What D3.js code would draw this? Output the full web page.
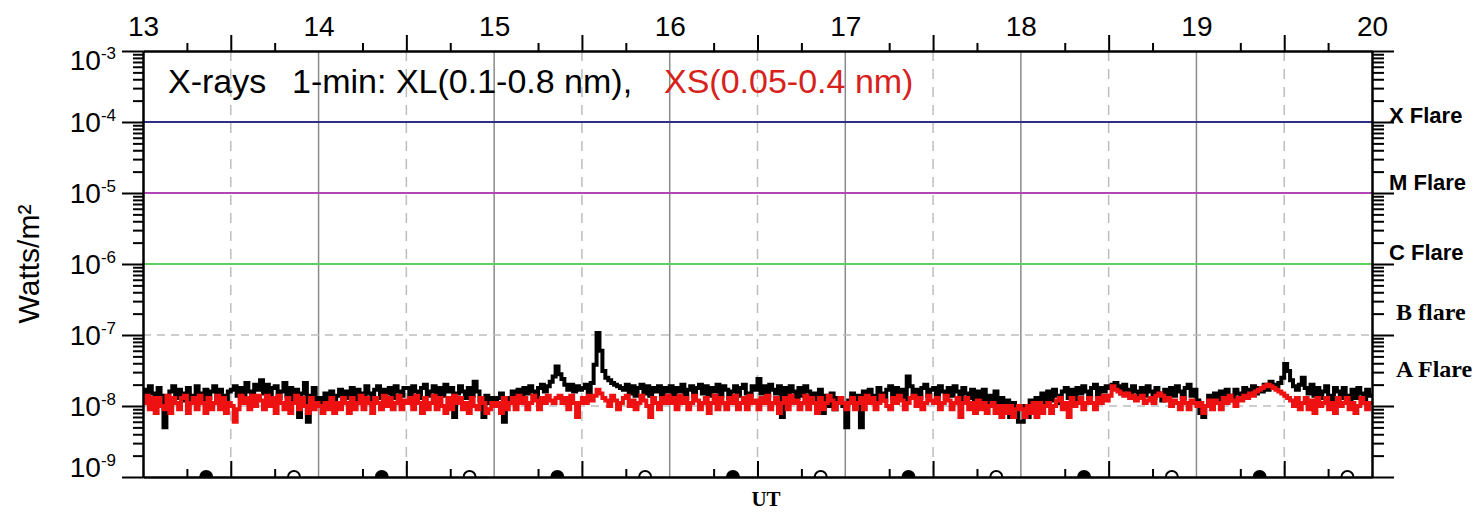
<!DOCTYPE html>
<html>
<head>
<meta charset="utf-8">
<script src="https://cdn.jsdelivr.net/npm/d3@7"></script>
<style>
  body { margin: 0; background: #fff; }
  text { font-family: "Liberation Sans", Arial, sans-serif; }
</style>
</head>
<body>
<svg id="chart" width="1476" height="513"></svg>
<script>
// ---- data ----
const hours = [13, 14, 15, 16, 17, 18, 19, 20];
const decades = [-9, -8, -7, -6, -5, -4, -3];
const flareValues = [1e-4, 1e-5, 1e-6];
const flareColors = ["#2e3088", "#b246b6", "#5fcf5f"];
const flareLabels = ["X Flare", "M Flare", "C Flare", "B flare", "A Flare"];
const flareLabelExp = [-4.07, -5.02, -6.0, -6.85, -7.65];
const dayMarks = [13.36, 14.36, 15.36, 16.36, 17.36, 18.36, 19.36];
const nightMarks = [13.86, 14.86, 15.86, 16.86, 17.86, 18.86, 19.86];
const unit = 1e-9; // series below are in 1e-9 W/m^2, one value per minute from 13:00
const xlData = [
  17,13,19,15,12,18,14,5,12,16,19,13,17,12,15,18,12,14,19,15,12,17,13,16,19,12,17,14,11,16,
  17,19,14,18,13,21,16,14,20,17,23,15,20,14,18,19,13,16,21,14,18,12,17,7,15,21,6,14,18,12,
  13,11,15,12,16,11,14,17,12,16,13,18,12,17,15,13,19,15,12,17,19,13,17,15,18,13,19,16,14,18,
  18,14,19,16,13,18,20,14,16,19,13,18,14,20,16,18,7,15,19,16,13,18,14,22,16,12,7,14,11,13,
  12,13,15,6,13,12,16,14,17,12,18,15,19,16,13,18,20,16,19,22,26,36,28,24,20,17,20,16,19,17,
  18,20,15,21,38,107,60,31,25,23,21,20,19,18,17,20,15,19,14,18,20,15,19,14,18,16,19,14,18,16,
  19,14,18,16,20,13,17,19,14,18,20,15,19,14,18,16,20,14,19,17,13,16,19,14,18,20,15,14,19,17,
  24,15,19,14,20,17,15,19,7,18,14,19,16,13,18,14,19,16,12,15,11,17,8,14,10,15,9,13,11,10,
  5,12,15,10,14,5,16,12,17,14,11,18,15,12,17,19,13,18,14,17,12,26,19,14,17,13,18,20,14,17,
  18,14,19,16,13,18,14,19,16,12,18,15,13,17,11,16,12,17,10,14,11,16,8,13,9,12,7,11,8,6,
  6,10,7,12,8,13,10,15,11,16,12,17,14,11,16,18,13,17,12,18,15,19,16,13,18,20,14,18,16,19,
  18,20,21,19,15,20,17,14,19,16,13,18,14,19,16,13,18,15,12,17,13,18,14,19,16,13,18,20,14,17,
  12,8,7,10,14,11,15,12,16,13,17,14,12,17,15,13,18,14,17,19,15,18,16,20,17,22,20,19,21,25,
  39,31,23,19,17,20,25,18,15,20,14,18,13,16,19,14,12,18,16,13,18,14,12,17,13,18,15,11,17,14,
  15
];
const xsData = [
  11,14,9,13,8,13,10,9,14,8,13,11,9,13,14,8,11,13,9,14,11,8,13,9,11,14,9,13,8,11,
  10,6,9,14,11,13,9,14,10,14,12,9,14,10,13,8,14,11,9,13,8,11,14,9,13,10,8,13,9,11,
  10,8,11,9,13,8,11,9,13,11,8,13,9,11,14,9,13,11,8,13,11,9,14,10,13,9,11,14,9,12,
  11,13,9,14,11,8,13,9,11,14,9,13,10,8,13,9,14,11,13,9,11,8,13,10,9,13,11,8,9,11,
  10,11,8,13,9,11,13,9,14,11,13,9,11,14,12,9,13,11,14,12,11,13,14,11,13,9,14,11,7,11,
  13,11,14,12,14,17,15,13,12,10,14,12,9,11,13,14,10,12,9,11,14,12,10,7,13,11,9,13,11,14,
  11,13,9,14,11,13,9,11,14,12,9,11,13,8,11,14,9,13,11,9,13,11,14,9,11,13,9,14,11,12,
  9,13,11,14,9,11,13,8,11,13,9,14,11,12,9,11,14,9,13,11,8,13,9,11,14,12,9,11,13,11,
  9,11,13,9,11,13,9,14,11,13,9,11,14,12,10,9,13,11,14,12,9,11,13,14,10,13,9,11,14,12,
  11,13,9,11,14,12,9,11,13,7,11,13,9,11,8,12,9,11,8,10,11,8,10,7,10,8,10,7,9,10,
  9,7,10,8,11,7,11,8,10,11,8,10,12,13,9,11,7,13,10,11,13,9,11,13,11,9,13,11,14,12,
  14,19,17,16,15,14,15,13,14,12,13,14,11,12,13,11,14,15,14,12,13,10,12,11,9,13,11,9,12,11,
  10,11,8,10,12,9,12,11,9,13,11,14,12,10,13,12,14,13,15,14,16,17,18,19,20,19,18,17,16,15,
  14,13,12,10,13,9,11,13,9,12,8,13,10,11,13,9,11,8,13,10,11,13,9,11,8,10,13,11,9,11,
  11
];

// ---- layout ----
const svg = d3.select("#chart");
const plotLeft = 143, plotRight = 1372, plotTop = 51, plotBottom = 477;
const sansFont = "'Liberation Sans', Arial, sans-serif";
const serifFont = "'Liberation Serif', 'Times New Roman', serif";

const x = d3.scaleLinear().domain([13, 20]).range([plotLeft, plotRight]);
const y = d3.scaleLog().domain([1e-9, 1e-3]).range([plotBottom, plotTop]);

const decadeVals = decades.map(d => Math.pow(10, d));
let minorVals = [];
decades.slice(0, -1).forEach(function (d) {
  for (let k = 2; k < 10; k++) minorVals.push(k * Math.pow(10, d));
});
let quarterVals = [], halfVals = [];
for (let h = 13; h < 20; h++) {
  quarterVals.push(h + 0.25, h + 0.75);
  halfVals.push(h + 0.5);
}

svg.append("rect").attr("width", 1476).attr("height", 513).attr("fill", "#fff");

// grid
const grid = svg.append("g");
grid.selectAll(".vh").data(hours.slice(1, -1)).enter().append("line")
  .attr("x1", d => x(d)).attr("x2", d => x(d))
  .attr("y1", plotTop).attr("y2", plotBottom)
  .attr("stroke", "#8a8a8a").attr("stroke-width", 1.5);
grid.selectAll(".vhh").data(halfVals).enter().append("line")
  .attr("x1", d => x(d)).attr("x2", d => x(d))
  .attr("y1", plotTop).attr("y2", plotBottom)
  .attr("stroke", "#bdbdbd").attr("stroke-width", 1.5)
  .attr("stroke-dasharray", "10,8");
grid.selectAll(".hd").data(decadeVals.slice(1, -1)).enter().append("line")
  .attr("x1", plotLeft).attr("x2", plotRight)
  .attr("y1", d => y(d)).attr("y2", d => y(d))
  .attr("stroke", "#bdbdbd").attr("stroke-width", 1.5)
  .attr("stroke-dasharray", "8,6");

// flare threshold lines
svg.selectAll(".flare").data(flareValues).enter().append("line")
  .attr("x1", plotLeft).attr("x2", plotRight)
  .attr("y1", d => y(d)).attr("y2", d => y(d))
  .attr("stroke", (d, i) => flareColors[i]).attr("stroke-width", 2);

// data
svg.append("clipPath").attr("id", "clip").append("rect")
  .attr("x", plotLeft).attr("y", plotTop)
  .attr("width", plotRight - plotLeft).attr("height", plotBottom - plotTop);

const line = d3.line()
  .x((d, i) => x(13 + i / 60))
  .y(d => y(d * unit))
  .curve(d3.curveStepAfter);

svg.append("path").datum(xlData)
  .attr("clip-path", "url(#clip)")
  .attr("d", line).attr("fill", "none")
  .attr("stroke", "#000").attr("stroke-width", 4);
svg.append("path").datum(xsData)
  .attr("clip-path", "url(#clip)")
  .attr("d", line).attr("fill", "none")
  .attr("stroke", "#ee1111").attr("stroke-width", 4);

// axes
function styleAxis(g) {
  g.select(".domain").attr("stroke", "#000").attr("stroke-width", 2);
  g.selectAll(".tick line").attr("stroke", "#000").attr("stroke-width", 2);
  g.selectAll("text").remove();
}
svg.append("g").attr("transform", `translate(${plotLeft},0)`)
  .call(d3.axisLeft(y).tickValues(decadeVals).tickSize(21).tickSizeOuter(0).tickFormat(""))
  .call(styleAxis);
svg.append("g").attr("transform", `translate(${plotLeft},0)`)
  .call(d3.axisLeft(y).tickValues(minorVals).tickSize(10).tickSizeOuter(0).tickFormat(""))
  .call(styleAxis);
svg.append("g").attr("transform", `translate(${plotRight},0)`)
  .call(d3.axisRight(y).tickValues(decadeVals).tickSize(22).tickSizeOuter(0).tickFormat(""))
  .call(styleAxis);
svg.append("g").attr("transform", `translate(${plotRight},0)`)
  .call(d3.axisRight(y).tickValues(minorVals).tickSize(12).tickSizeOuter(0).tickFormat(""))
  .call(styleAxis);

[[plotTop, d3.axisTop, -1], [plotBottom, d3.axisBottom, 1]].forEach(function (p) {
  const sign = -p[2];
  svg.append("g").attr("transform", `translate(0,${p[0]})`)
    .call(p[1](x).tickValues(quarterVals).tickSize(sign * 8).tickSizeOuter(0).tickFormat(""))
    .call(styleAxis);
  svg.append("g").attr("transform", `translate(0,${p[0]})`)
    .call(p[1](x).tickValues(halfVals).tickSize(sign * 16).tickSizeOuter(0).tickFormat(""))
    .call(styleAxis);
});

// hour labels on top
const topLabels = svg.append("g").attr("transform", `translate(0,${plotTop})`)
  .call(d3.axisTop(x).tickValues(hours).tickSize(0).tickPadding(15).tickFormat(d3.format("d")));
topLabels.select(".domain").remove();
topLabels.selectAll("text")
  .style("font-family", sansFont)
  .attr("font-size", 28).attr("fill", "#000");

// decade labels 10^n
const yl = svg.append("g").selectAll("text").data(decades).enter().append("text")
  .attr("x", 116)
  .attr("y", function (d, i) {
    let shift = 0;
    if (i === 0) shift = -10;
    if (i === decades.length - 1) shift = 9;
    return y(Math.pow(10, d)) + 10 + shift;
  })
  .attr("text-anchor", "end")
  .attr("font-size", 28);
yl.append("tspan").text("10");
yl.append("tspan").attr("dy", -11).attr("font-size", 17).text(d => String(d));

svg.append("text")
  .attr("transform", "translate(39,264) rotate(-90)")
  .attr("text-anchor", "middle")
  .attr("font-size", 30)
  .text("Watts/m²");

// title
svg.append("text").attr("x", 168).attr("y", 93).attr("font-size", 34)
  .text("X-rays");
svg.append("text").attr("x", 292).attr("y", 93).attr("font-size", 34)
  .text("1-min: XL(0.1-0.8 nm),");
svg.append("text").attr("x", 664).attr("y", 93).attr("font-size", 34)
  .attr("fill", "#d7221c")
  .text("XS(0.05-0.4 nm)");

// flare labels on the right
svg.selectAll(".flab").data(flareLabels).enter().append("text")
  .attr("x", (d, i) => i < 3 ? 1389 : 1396)
  .attr("y", (d, i) => y(Math.pow(10, flareLabelExp[i])) - 4)
  .style("font-family", (d, i) => i < 3 ? sansFont : serifFont)
  .attr("font-weight", "bold")
  .attr("font-size", (d, i) => i < 3 ? 22 : 24)
  .text(d => d);

svg.append("text").attr("x", 766).attr("y", 506)
  .attr("text-anchor", "middle")
  .style("font-family", serifFont)
  .attr("font-weight", "bold").attr("font-size", 21)
  .text("UT");

// orbit day/night markers on the time axis
svg.selectAll(".day").data(dayMarks).enter().append("path")
  .attr("transform", d => `translate(${x(d)},${plotBottom})`)
  .attr("d", d3.arc().innerRadius(0).outerRadius(7)
    .startAngle(-Math.PI / 2).endAngle(Math.PI / 2)())
  .attr("fill", "#000");
svg.selectAll(".night").data(nightMarks).enter().append("path")
  .attr("transform", d => `translate(${x(d)},${plotBottom})`)
  .attr("d", d3.arc().innerRadius(5).outerRadius(7)
    .startAngle(-Math.PI / 2).endAngle(Math.PI / 2)())
  .attr("fill", "#000");
</script>
</body>
</html>
